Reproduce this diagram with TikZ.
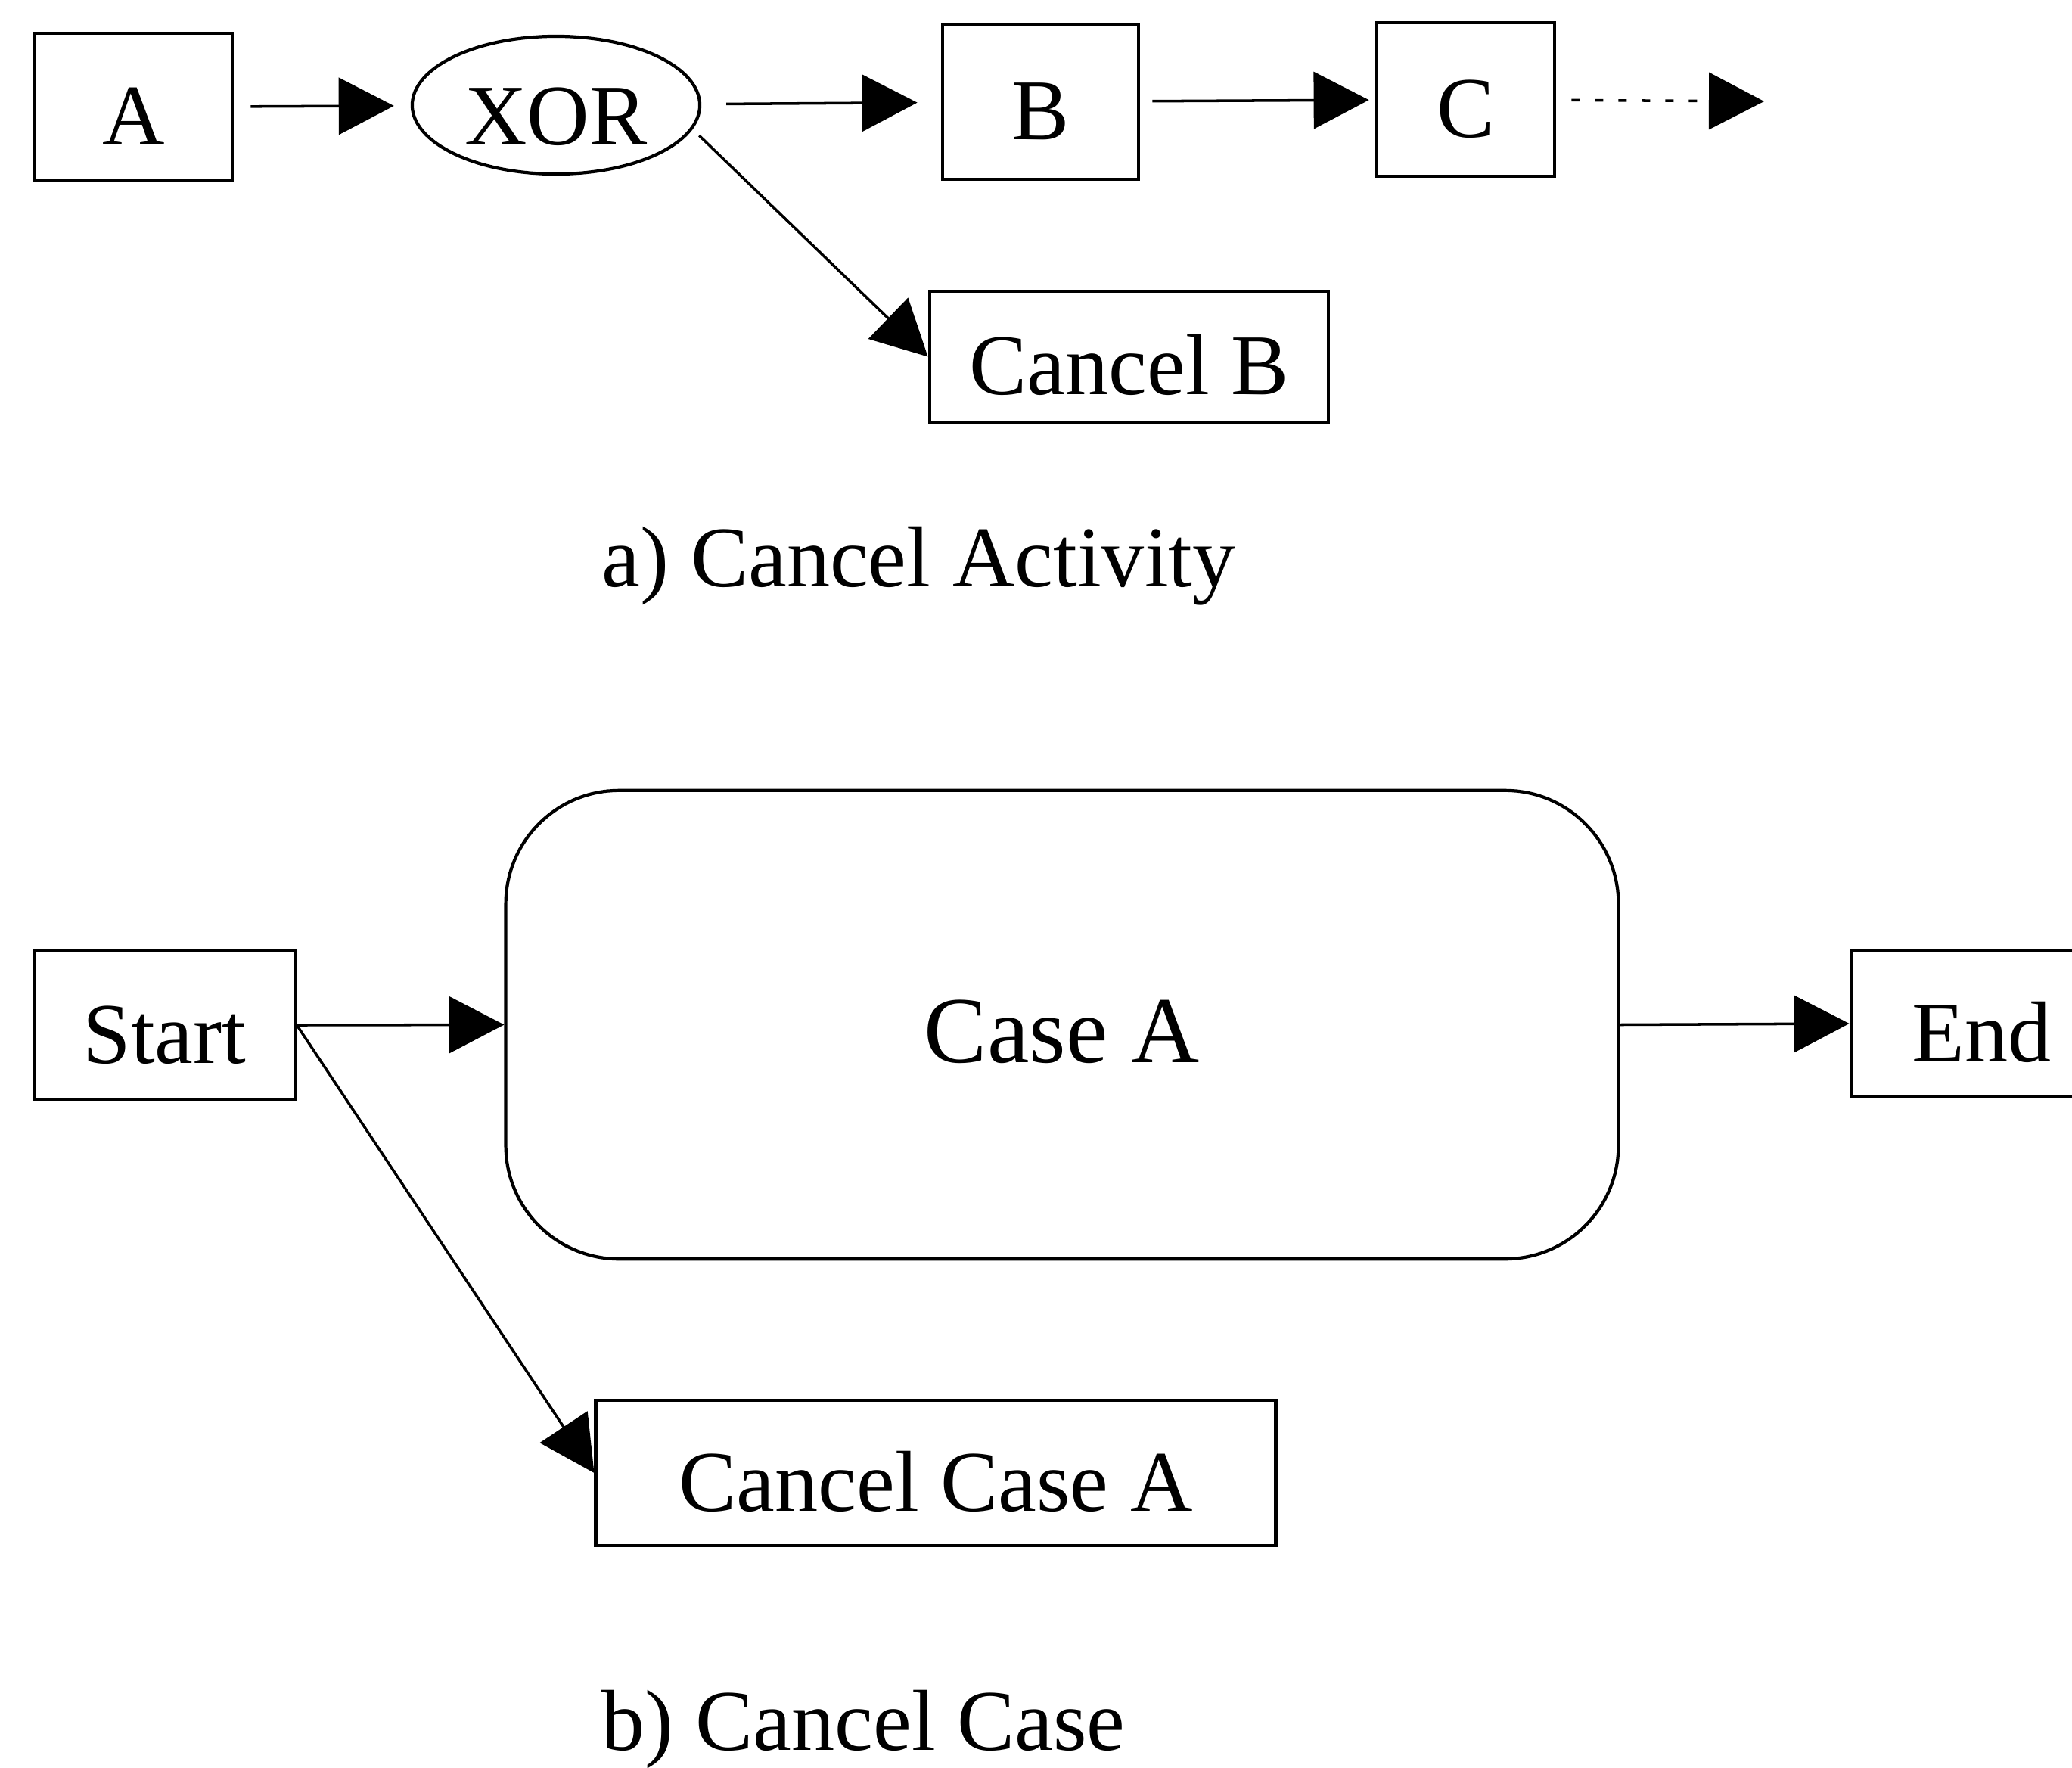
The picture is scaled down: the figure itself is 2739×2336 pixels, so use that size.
\documentclass[tikz,border=0pt]{standalone}
\usepackage{fontspec}
\setmainfont{Liberation Serif}
\usetikzlibrary{arrows.meta,shapes.geometric}
\begin{document}
\begin{tikzpicture}[x=0.01cm,y=-0.01cm,
  every node/.style={inner sep=0pt, font=\fontsize{32.5}{39}\selectfont,
                     text height=1.2cm, text depth=0.2cm},
  box/.style={draw, rectangle, line width=1.3pt},
  gate/.style={draw, ellipse, line width=1.2pt, text height=0.8cm, text depth=0cm},
  phase/.style={draw, rectangle, rounded corners=1.5cm, line width=1.2pt,
                font=\fontsize{35.5}{42}\selectfont},
  caption/.style={anchor=base west},
  arr/.style={line width=1pt, -{Triangle[length=0.73cm,width=0.75cm]}},
  onward/.style={arr, dash pattern=on 0.11cm off 0.2cm}
]
\useasboundingbox (0,0) rectangle (2739,2336);
\fill[white] (0,0) rectangle (2739,2336);
\clip (0,0) rectangle (2739,2336);

% a) cancelling a single activity
\node[box, minimum width=2.61cm, minimum height=1.95cm] (A) at (176.5,141.5) {A};
\node[gate, minimum width=3.80cm, minimum height=1.82cm] (xor) at (735,139) {\raisebox{-0.12cm}{XOR}};
\node[box, minimum width=2.59cm, minimum height=2.05cm] (B) at (1375.5,134.5) {B};
\node[box, minimum width=2.35cm, minimum height=2.03cm] (C) at (1937.5,131.5) {C};
\node[box, minimum width=5.27cm, minimum height=1.73cm] (cb) at (1492.5,471.5) {Cancel B};
\coordinate (cnext) at (2332,134);

\draw[arr, shorten <=0.22cm, shorten >=0.22cm] (A) -- (xor);
\draw[arr, shorten <=0.33cm, shorten >=0.31cm] (xor) -- (B);
\draw[arr, shorten <=0.16cm, shorten >=0.08cm] (B) -- (C);
\draw[onward, shorten <=0.2cm] (C) -- (cnext);
\draw[arr, shorten <=0.12cm] (xor.-10) -- (cb.west);

\node[caption] (capa) at (795,775) {a) Cancel Activity};

% b) cancelling a whole case
\node[box, minimum width=3.45cm, minimum height=1.96cm] (start) at (217.5,1355) {Start};
\node[phase, minimum width=14.70cm, minimum height=6.19cm] (caseA) at (1404,1354.5) {Case A};
\node[box, minimum width=3.46cm, minimum height=1.92cm] (end) at (2620,1353) {End};
\node[box, minimum width=8.98cm, minimum height=1.92cm] (cca) at (1237,1947) {Cancel Case A};

\draw[arr] (start.east) -- (caseA.west);
\draw[arr] (caseA.east) -- (end.west);
\draw[arr] (start.east) -- (cca.west);

\node[caption] (capb) at (795,2313) {b) Cancel Case};
\end{tikzpicture}
\end{document}
